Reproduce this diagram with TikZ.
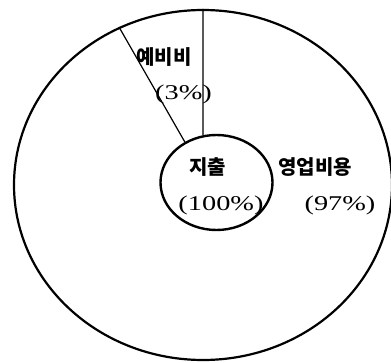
\documentclass[tikz,border=0pt]{standalone}
\usepackage{fontspec}
\setmainfont{Liberation Serif}
\newfontfamily\kr{Noto Sans CJK KR}
\usetikzlibrary{shapes.geometric}
\tikzset{
  ring/.style={draw, ellipse, inner sep=0pt, line width=#1},
  divider/.style={line width=1.2pt},
  krlabel/.style={anchor=base, inner sep=0pt, font=\kr\bfseries\fontsize{20}{24}\selectfont},
  numlabel/.style={anchor=base, inner sep=0pt, xscale=1.35, font=\fontsize{21}{25}\selectfont},
}
\begin{document}
\begin{tikzpicture}[x=1pt,y=1pt]
\useasboundingbox (0,0) rectangle (391,362);
\node[ring=2.2pt, minimum width=378pt, minimum height=350pt] (outer) at (203,177) {};
\node[ring=2.4pt, minimum width=112pt, minimum height=95pt] (inner) at (216.5,179.5) {};
\coordinate (vtop) at (outer.north);
\coordinate (vbot) at (inner.106.3);
\draw[divider] (vtop) -- (vbot);
\draw[divider] (outer.118.9) -- (inner.128.6);
\node[krlabel] (reserve) at (164,297) {예비비};
\node[numlabel] (reservepct) at (183.5,262) {(3\%)};
\node[krlabel] (total) at (207.5,187) {지출};
\node[numlabel] (totalpct) at (221,152) {(100\%)};
\node[krlabel] (oper) at (315,187.5) {영업비용};
\node[numlabel] (operpct) at (340,152) {(97\%)};
\end{tikzpicture}
\end{document}
